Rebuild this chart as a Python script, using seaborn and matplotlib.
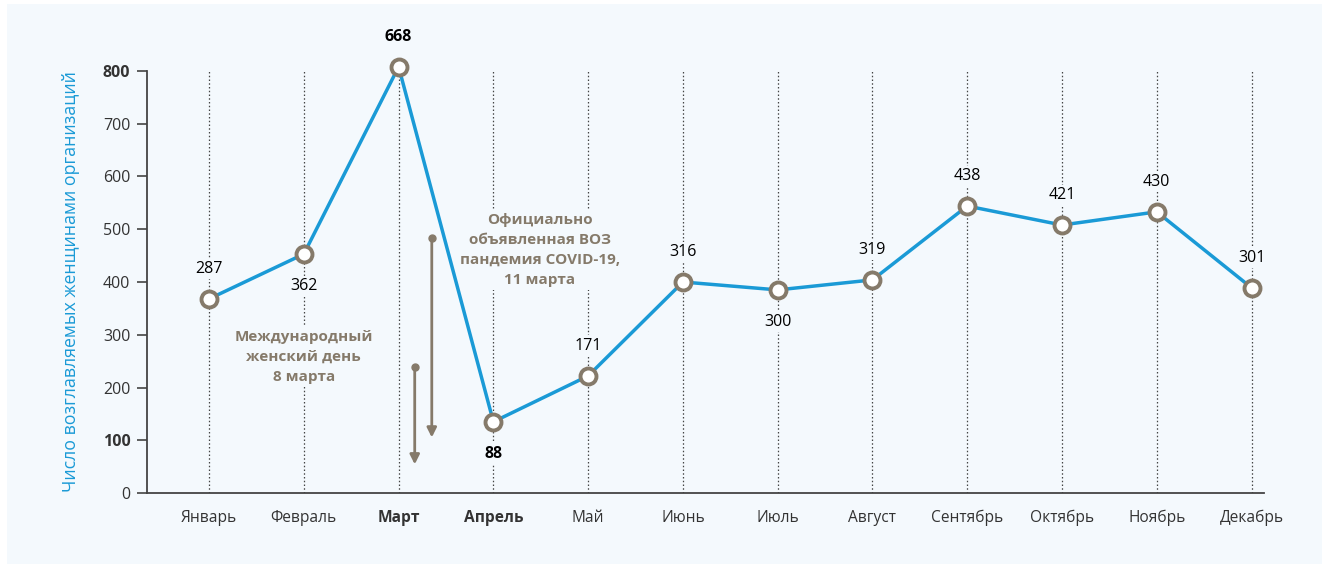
import matplotlib
matplotlib.use("Agg")
import matplotlib.pyplot as plt
import matplotlib.patches as mpatches
import seaborn as sns
import pandas as pd

# months, plotted positions and printed labels (labels differ from positions in the original)
months = ["Январь", "Февраль", "Март", "Апрель", "Май", "Июнь",
          "Июль", "Август", "Сентябрь", "Октябрь", "Ноябрь", "Декабрь"]
positions = [368, 453, 808, 135, 222, 400, 385, 404, 544, 508, 533, 389]
labels = [287, 362, 668, 88, 171, 316, 300, 319, 438, 421, 430, 301]
label_below = [False, True, False, True, False, False, True, False, False, False, False, False]
bold_months = ["Март", "Апрель"]
yticks = [0, 100, 200, 300, 400, 500, 600, 700, 800]
bold_yticks = [100, 800]

BLUE = "#1a9ad6"
BROWN = "#857a6a"
BG = "#f4f9fd"
FONT = "Open Sans"
PX = 0.5275  # pixels per data unit on y

sns.set_theme(style="white")
plt.rcParams["font.family"] = [FONT, "DejaVu Sans"]

df = pd.DataFrame({"idx": range(len(months)), "val": positions})

fig = plt.figure(figsize=(13.29, 5.67), dpi=100, facecolor="white")
fig.patches.append(mpatches.Rectangle((7 / 1329, 1 - 564 / 567), 1315 / 1329, 560 / 567,
                                      transform=fig.transFigure, facecolor=BG,
                                      edgecolor="none", zorder=-10))
ax = fig.add_axes([0.1106, 0.1305, 0.8404, 0.7443])
ax.patch.set_alpha(0)

# dotted verticals
for i in range(len(months)):
    ax.plot([i, i], [0, 800], color="#444444", lw=0.9, ls=(0, (1.2, 1.8)), zorder=1)

sns.lineplot(data=df, x="idx", y="val", ax=ax, color=BLUE, lw=2.5, zorder=3,
             marker="o", markersize=11.5, markerfacecolor="white",
             markeredgecolor=BROWN, markeredgewidth=2.8, clip_on=False)

# value labels
for i, (p, lab, below) in enumerate(zip(positions, labels, label_below)):
    bold = months[i] in bold_months
    off = -32 if below else 30
    ax.text(i, p + off / PX, str(lab), ha="center", va="center", fontsize=11.5,
            color="black", fontweight="bold" if bold else "normal", zorder=4,
            bbox=dict(boxstyle="square,pad=0.15", fc=BG, ec="none"))

# arrows
ax.annotate("", xy=(2.17, 49), xytext=(2.17, 239),
            arrowprops=dict(arrowstyle="-|>", color=BROWN, lw=2, mutation_scale=14), zorder=5)
ax.plot([2.17], [239], "o", color=BROWN, ms=5, zorder=5)
ax.annotate("", xy=(2.35, 100), xytext=(2.35, 483),
            arrowprops=dict(arrowstyle="-|>", color=BROWN, lw=2, mutation_scale=14), zorder=5)
ax.plot([2.35], [483], "o", color=BROWN, ms=5, zorder=5)

ax.text(1, 258, "Международный\nженский день\n8 марта", ha="center", va="center",
        fontsize=11, fontweight="bold", color=BROWN, linespacing=1.55, zorder=2,
        bbox=dict(boxstyle="square,pad=0.2", fc=BG, ec="none"))
ax.text(3.49, 461, "Официально\nобъявленная ВОЗ\nпандемия COVID-19,\n11 марта", ha="center",
        va="center", fontsize=11, fontweight="bold", color=BROWN, linespacing=1.55, zorder=2,
        bbox=dict(boxstyle="square,pad=0.2", fc=BG, ec="none"))

ax.set_xlim(-0.655, 11.13)
ax.set_ylim(0, 800)
ax.set_yticks(yticks)
ax.set_yticklabels([str(t) for t in yticks])
for t, lab in zip(yticks, ax.get_yticklabels()):
    if t in bold_yticks:
        lab.set_fontweight("bold")
        lab.set_color("black")
ax.set_xticks(range(len(months)))
ax.set_xticklabels(months)
for lab in ax.get_xticklabels():
    if lab.get_text() in bold_months:
        lab.set_fontweight("bold")
        lab.set_color("black")
ax.tick_params(axis="y", which="major", left=True, length=7, width=1.2, color="#444444",
               labelsize=11.5, labelcolor="#333333", pad=5)
ax.tick_params(axis="x", bottom=False, labelsize=11.2, labelcolor="#333333", pad=6)

sns.despine(ax=ax, top=True, right=True)
for s in ["left", "bottom"]:
    ax.spines[s].set_color("#444444")
    ax.spines[s].set_linewidth(1.3)

ax.set_xlabel("")
ax.set_ylabel("Число возглавляемых женщинами организаций", color=BLUE, fontsize=12.8, labelpad=16)

fig.savefig("out.png", dpi=100, facecolor="white")
